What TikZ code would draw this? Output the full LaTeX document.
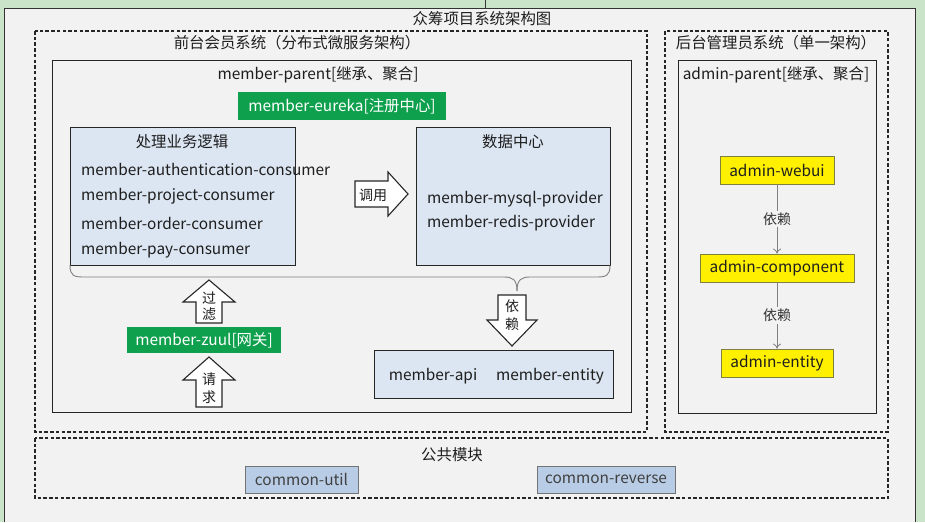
\documentclass[tikz,border=0pt]{standalone}
\usepackage{fontspec}
\setmainfont{Noto Sans CJK SC}
\usetikzlibrary{arrows.meta}
\definecolor{bggreen}{HTML}{C9E4C9}
\definecolor{panel}{HTML}{F2F2F2}
\definecolor{lblue}{HTML}{DCE6F2}
\definecolor{mgreen}{HTML}{0FA04E}
\definecolor{ybox}{HTML}{FFF000}
\definecolor{yborder}{HTML}{7F7F3F}
\definecolor{cblue}{HTML}{B9CCE6}
\definecolor{txt}{HTML}{1E1E1E}
\begin{document}
\begin{tikzpicture}[x=1pt,y=-1pt,
  every node/.style={text=txt, inner sep=0pt},
  t15/.style={font=\fontsize{15.4}{18}\selectfont},
  t14/.style={font=\fontsize{14}{16}\selectfont},
  dashbox/.style={draw=black!85, line width=1.1pt, dash pattern=on 3.5pt off 2.2pt},
  parentbox/.style={draw=black!85, line width=1.3pt, fill=panel},
  bluebox/.style={draw=black!85, line width=1.1pt, fill=lblue},
  greenbox/.style={fill=mgreen, text=white, t15},
  yellowbox/.style={draw=yborder, line width=0.8pt, fill=ybox, t15},
  combox/.style={draw=black!55, line width=0.8pt, fill=cblue, t15, text=black!75},
  blockarrow/.style={draw=black!85, line width=1.1pt, fill=white},
  bracestyle/.style={draw=black!50, line width=0.9pt},
  dep/.style={draw=black!50, line width=0.8pt, -{To[length=5pt,width=8pt]}}
]
\useasboundingbox (0,0) rectangle (925,522);
\fill[bggreen] (0,0) rectangle (925,522);
\fill[panel] (4,8) rectangle (915,522);
\draw[black!80, line width=1pt] (4,522) -- (4,8) -- (915,8) -- (915,522);
\draw[black!80, line width=1pt] (485,0) -- (485,8);

% titles
\node[t15] (title) at (482,19) {众筹项目系统架构图};

% dashed containers
\draw[dashbox] (35,31) rectangle (647,432);
\draw[dashbox] (665,31) rectangle (888,432);
\draw[dashbox] (35,438) rectangle (888,498);
\node[t15] (fronttitle) at (297,43) {前台会员系统（分布式微服务架构）};
\node[t15] (backtitle) at (776,43) {后台管理员系统（单一架构）};
\node[t15] (commontitle) at (452,455) {公共模块};

% member-parent
\node[parentbox, anchor=north west, minimum width=579pt, minimum height=352pt] (mparent) at (52,60) {};
\node[t15] (mparenttitle) at (318,75) {member-parent[继承、聚合]};
\node[greenbox, minimum width=208pt, minimum height=28pt] (eureka) at (342,106) {member-eureka[注册中心]};

% business box
\node[bluebox, anchor=north west, minimum width=225pt, minimum height=138pt] (biz) at (70,127) {};
\node[t15] (biztitle) at (182,142) {处理业务逻辑};
\node[t15, anchor=west] (b1) at (81,169) {member-authentication-consumer};
\node[t15, anchor=west] (b2) at (81,196) {member-project-consumer};
\node[t15, anchor=west] (b3) at (81,223) {member-order-consumer};
\node[t15, anchor=west] (b4) at (81,250) {member-pay-consumer};

% data box
\node[bluebox, anchor=north west, minimum width=194pt, minimum height=138pt] (data) at (416,127) {};
\node[t15] (datatitle) at (513,142) {数据中心};
\node[t15, anchor=west] (d1) at (427,199) {member-mysql-provider};
\node[t15, anchor=west] (d2) at (427,223) {member-redis-provider};

% call arrow
\draw[blockarrow] (355,181) -- (388,181) -- (388,172) -- (408,194) -- (388,216) -- (388,207) -- (355,207) -- cycle;
\node[t14] (call) at (373,195) {调用};

% brace
\draw[bracestyle] (70,265) .. controls (70,276) and (74,277) .. (84,277) -- (504,277) .. controls (512,277) and (517,279) .. (517,291);
\draw[bracestyle] (610,265) .. controls (610,276) and (606,277) .. (596,277) -- (530,277) .. controls (522,277) and (517,279) .. (517,291);

% dependency down arrow
\draw[blockarrow] (498,295) -- (526,295) -- (526,320) -- (537,320) -- (512,346) -- (487,320) -- (498,320) -- cycle;
\node[t14] (dep1) at (512,306) {依};
\node[t14] (dep2) at (512,324) {赖};

% api box
\node[bluebox, anchor=north west, minimum width=239pt, minimum height=48pt] (api) at (374,350) {};
\node[t15] (apitxt) at (433,376) {member-api};
\node[t15] (entitytxt) at (550,376) {member-entity};

% filter up arrow
\draw[blockarrow] (209,280) -- (235,302) -- (222,302) -- (222,323) -- (196,323) -- (196,302) -- (183,302) -- cycle;
\node[t14] (f1) at (209,298) {过};
\node[t14] (f2) at (209,314) {滤};

\node[greenbox, minimum width=154pt, minimum height=26pt] (zuul) at (204,340) {member-zuul[网关]};

% request up arrow
\draw[blockarrow] (209,357) -- (235,380) -- (222,380) -- (222,407) -- (196,407) -- (196,380) -- (183,380) -- cycle;
\node[t14] (r1) at (209,379) {请};
\node[t14] (r2) at (209,397) {求};

% admin-parent
\node[parentbox, anchor=north west, minimum width=198pt, minimum height=353pt] (aparent) at (678,60) {};
\node[t15] (aparenttitle) at (776,75) {admin-parent[继承、聚合]};
\node[yellowbox, minimum width=114pt, minimum height=28pt] (webui) at (777,170) {admin-webui};
\node[yellowbox, minimum width=154pt, minimum height=28pt] (comp) at (777,268) {admin-component};
\node[yellowbox, minimum width=112pt, minimum height=28pt] (aentity) at (777,363) {admin-entity};
\draw[dep] (webui) -- node[fill=panel, inner sep=2pt, t14, text=black!80] (depa) {依赖} (comp);
\draw[dep] (comp) -- node[fill=panel, inner sep=2pt, t14, text=black!80] (depb) {依赖} (aentity);

% common modules
\node[combox, minimum width=113pt, minimum height=27pt] (cutil) at (301.5,479.5) {common-util};
\node[combox, minimum width=138pt, minimum height=27pt] (crev) at (606,479.5) {common-reverse};
\end{tikzpicture}
\end{document}
